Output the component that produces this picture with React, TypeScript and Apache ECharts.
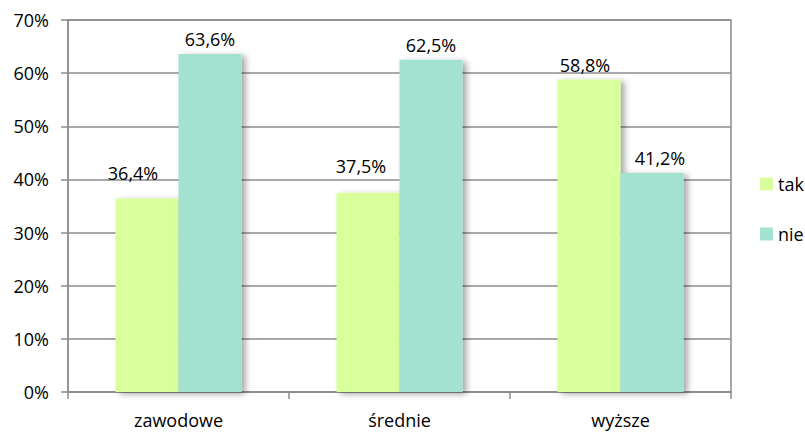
import React, { useEffect, useRef } from "react";
import * as echarts from "echarts";

const categories = ["zawodowe", "średnie", "wyższe"];
const takValues = [36.4, 37.5, 58.8];
const nieValues = [63.6, 62.5, 41.2];
const seriesNames = ["tak", "nie"];

const FONT = "'Segoe UI', 'Open Sans', 'Noto Sans', sans-serif";
const FONT_SIZE = 18;
const GRID_COLOR = "#8c8c8c";

const fmt = (v: number) => v.toFixed(1).replace(".", ",") + "%";

export default function App() {
  const ref = useRef<HTMLDivElement>(null);

  useEffect(() => {
    if (!ref.current) return;
    document.body.style.margin = "0";
    const chart = echarts.init(ref.current, undefined, { renderer: "svg" });

    const shadow = {
      shadowColor: "rgba(0,0,0,0.35)",
      shadowBlur: 6,
      shadowOffsetX: 4,
      shadowOffsetY: 2,
    };

    // the two shorter "tak" labels sit a little up and to the left
    const takOffsets: [number, number][] = [
      [-14, -11],
      [-7, -12],
      [-4, 0],
    ];

    const labelStyle = {
      show: true,
      position: "top",
      distance: 6,
      fontFamily: FONT,
      fontSize: FONT_SIZE,
      color: "#000",
      formatter: (p: any) => fmt(p.value),
    };

    chart.setOption({
      animation: false,
      backgroundColor: "#ffffff",
      textStyle: { fontFamily: FONT },
      grid: {
        left: 68,
        right: 74,
        top: 20,
        bottom: 42,
        show: true,
        borderColor: GRID_COLOR,
        borderWidth: 1.5,
      },
      legend: {
        orient: "vertical",
        left: 755,
        top: 170,
        itemWidth: 13,
        itemHeight: 13,
        itemGap: 32,
        icon: "rect",
        data: seriesNames,
        textStyle: { fontFamily: FONT, fontSize: FONT_SIZE, color: "#000" },
      },
      xAxis: {
        type: "category",
        data: categories,
        axisLine: { lineStyle: { color: GRID_COLOR, width: 1.5 } },
        axisTick: { show: true, length: 7, lineStyle: { color: GRID_COLOR, width: 1.5 } },
        axisLabel: { fontFamily: FONT, fontSize: FONT_SIZE, color: "#000", margin: 19 },
      },
      yAxis: {
        type: "value",
        min: 0,
        max: 70,
        interval: 10,
        axisLine: { show: true, lineStyle: { color: GRID_COLOR, width: 1.5 } },
        axisTick: { show: true, length: 7, lineStyle: { color: GRID_COLOR, width: 1.5 } },
        splitLine: { lineStyle: { color: GRID_COLOR, width: 1.5 } },
        axisLabel: {
          fontFamily: FONT,
          fontSize: FONT_SIZE,
          color: "#000",
          margin: 19,
          formatter: (v: number) => v + "%",
        },
      },
      series: [
        {
          name: seriesNames[0],
          type: "bar",
          barWidth: 63,
          barGap: "0%",
          itemStyle: { color: "#d9ff9d", ...shadow },
          label: labelStyle,
          data: takValues.map((v, i) => ({ value: v, label: { offset: takOffsets[i] } })),
        },
        {
          name: seriesNames[1],
          type: "bar",
          barWidth: 63,
          barGap: "0%",
          itemStyle: { color: "#a3e2d0", ...shadow },
          label: labelStyle,
          data: nieValues.map((v, i) => ({ value: v, label: { offset: i === 2 ? [8, 0] : [0, 0] } })),
        },
      ],
    });

    return () => chart.dispose();
  }, []);

  return (
    <div
      ref={ref}
      style={{ position: "absolute", left: 0, top: 0, width: 805, height: 434 }}
    />
  );
}
